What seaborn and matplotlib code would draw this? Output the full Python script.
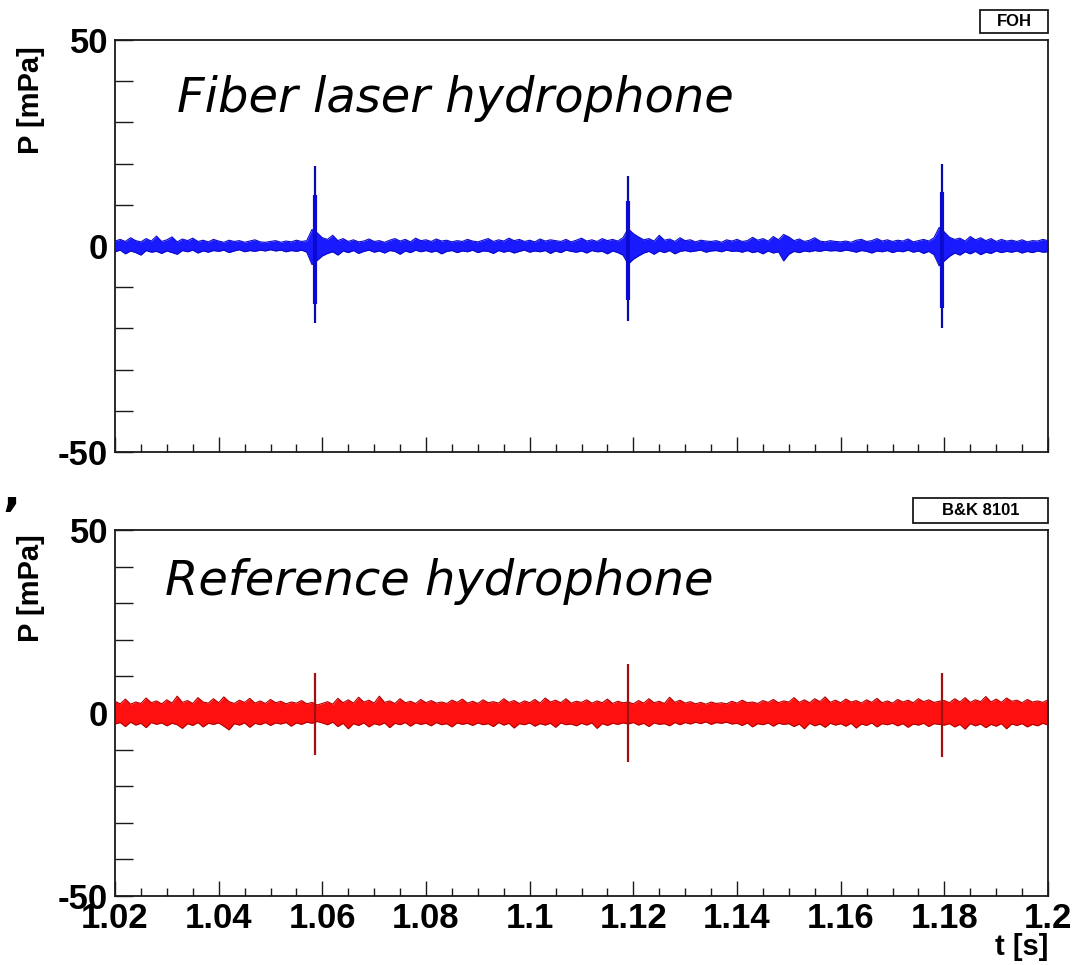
import numpy as np
import matplotlib
matplotlib.use("Agg")
import matplotlib.pyplot as plt
from matplotlib.ticker import MultipleLocator, FixedLocator, FixedFormatter, NullFormatter
from matplotlib.patches import Rectangle
import seaborn as sns

# ---------------- data ----------------
t_start = 1.020          # s, first envelope sample
t_step = 0.001           # s, envelope sample spacing

# fibre laser hydrophone: upper / lower envelope of the trace [mPa]
foh_hi = [1.2, 1.6, 1.1, 2.0, 1.3, 1.0, 1.8, 1.2, 2.4, 1.1,
          1.5, 2.2, 1.0, 1.7, 1.3, 1.9, 1.1, 1.4, 1.0, 1.6,
          1.2, 0.9, 1.4, 1.1, 1.3, 0.9, 1.2, 1.5, 1.0, 0.9,
          1.1, 1.3, 0.9, 1.2, 1.0, 1.4, 1.1, 1.3,
          4.0, 3.2, 2.0, 1.6,
          2.6, 1.3, 1.8, 1.1, 1.5, 1.0, 1.2, 1.7,
          1.1, 1.3, 0.9, 1.4, 1.8, 1.2, 1.6, 1.0, 1.9, 1.3,
          1.5, 1.1, 1.7, 1.2, 1.4, 1.0, 1.3, 1.1, 1.6, 1.2,
          1.0, 1.4, 1.8, 1.1, 1.5, 1.2, 1.9, 1.3, 1.6, 1.1,
          1.4, 1.0, 1.7, 1.2, 1.5, 1.3, 1.1, 1.6, 1.0, 1.4,
          1.9, 1.2, 1.5, 1.1, 1.8, 1.3, 1.6, 1.2, 2.0,
          4.2, 3.0, 2.2, 1.5,
          1.8, 1.2, 2.6, 1.4, 1.7, 1.1, 2.0,
          1.3, 1.5, 1.0, 1.4, 1.2, 1.1, 1.3, 0.9, 1.5, 1.2,
          1.6, 1.1, 1.3, 2.1, 1.4, 1.8, 1.2, 2.3, 1.5, 2.8,
          2.2, 1.3, 1.7, 1.1, 1.4, 2.0, 1.2, 1.0, 1.3, 1.1,
          1.0, 1.2, 0.9, 1.4, 1.6, 1.1, 1.3, 1.8, 1.2, 1.5,
          1.1, 1.4, 1.2, 1.7, 1.0, 1.3, 1.6, 1.2, 2.0,
          4.5, 3.4, 2.1, 1.6,
          1.9, 1.2, 2.3, 1.5, 2.0, 1.3, 1.8, 1.1, 1.6, 1.2,
          1.4, 1.1, 1.5, 1.0, 1.3, 1.2, 1.6, 1.3]
foh_lo = [-1.4, -1.0, -1.9, -1.2, -1.6, -2.2, -1.1, -1.5, -1.3, -1.8,
          -1.2, -1.6, -2.0, -1.1, -1.4, -1.0, -1.7, -1.2, -1.5, -1.1,
          -1.3, -1.0, -1.6, -1.2, -0.9, -1.4, -1.1, -1.3, -1.0, -1.2,
          -0.9, -1.2, -1.0, -1.4, -1.1, -1.3, -1.0, -1.5,
          -4.5, -3.5, -2.4, -1.8,
          -1.4, -2.2, -1.2, -1.6, -1.1, -1.8, -1.3, -1.0,
          -1.5, -1.2, -1.7, -1.1, -1.3, -2.0, -1.2, -1.6, -1.0, -1.4,
          -1.1, -1.5, -1.2, -1.9, -1.3, -1.1, -1.6, -1.2, -1.4, -1.0,
          -1.6, -1.2, -1.3, -1.8, -1.1, -1.5, -1.2, -1.7, -1.3, -1.0,
          -1.5, -1.2, -1.4, -1.1, -1.8, -1.2, -1.6, -1.0, -1.3, -1.5,
          -1.2, -1.7, -1.1, -1.4, -1.3, -1.9, -1.2, -1.6, -2.2,
          -4.4, -3.2, -2.4, -1.7,
          -1.3, -2.0, -1.2, -1.6, -1.1, -1.9, -1.3,
          -1.1, -1.4, -1.2, -1.0, -1.5, -1.2, -1.1, -1.4, -1.0, -1.3,
          -1.2, -1.5, -1.1, -1.6, -1.3, -1.9, -1.2, -1.7, -1.4, -3.6,
          -2.0, -1.3, -1.6, -1.2, -1.4, -1.1, -1.3, -1.0, -1.2, -1.1,
          -1.3, -1.0, -1.2, -1.5, -1.1, -1.3, -1.7, -1.2, -1.4, -1.1,
          -1.6, -1.2, -1.4, -1.0, -1.5, -1.2, -1.8, -1.3, -2.1,
          -4.8, -3.6, -2.5, -1.7,
          -2.2, -1.4, -1.9, -1.3, -2.1, -1.5, -1.8, -1.2, -1.6, -1.3,
          -1.5, -1.2, -1.7, -1.3, -1.6, -1.2, -1.5, -1.4]

# reference hydrophone (B&K 8101): upper / lower envelope [mPa]
bk_hi = [3.2, 2.5, 3.8, 2.4, 3.0, 2.6, 4.1, 2.8, 3.3, 2.5,
         3.6, 2.7, 4.6, 2.9, 3.4, 2.6, 4.2, 3.0, 2.7, 3.9,
         2.8, 4.4, 3.1, 2.6, 3.5, 2.9, 4.0, 2.7, 3.3, 2.6,
         3.7, 2.8, 3.2, 2.5, 3.0, 2.7, 3.4, 2.5, 2.9, 2.2,
         2.6, 3.1, 2.4, 4.0, 2.8, 3.6, 2.7, 4.3, 3.0, 3.5,
         2.7, 4.6, 2.9, 3.3, 2.6, 3.9, 2.8, 3.2, 2.6, 3.7,
         2.8, 3.4, 2.7, 3.0, 2.6, 3.5, 2.9, 3.8, 2.7, 3.2,
         2.6, 3.6, 2.8, 3.1, 2.7, 3.9, 2.9, 3.4, 2.6, 3.3,
         2.8, 3.7, 2.7, 4.1, 3.0, 3.5, 2.8, 3.9, 2.7, 3.2,
         2.9, 3.6, 2.7, 3.3, 2.8, 3.8, 2.6, 3.2, 2.8, 3.0,
         2.5, 3.4, 2.7, 3.9, 2.8, 3.2, 2.6, 4.3, 2.9, 3.5,
         2.7, 3.1, 2.5, 2.9, 2.4, 3.0, 2.6, 2.8, 2.5, 3.2,
         2.7, 3.5, 2.8, 3.0, 2.6, 3.4, 2.9, 3.7, 2.8, 3.3,
         3.0, 4.2, 2.9, 3.6, 2.8, 3.9, 3.1, 4.4, 2.9, 3.5,
         2.8, 3.8, 3.0, 3.4, 2.7, 3.6, 2.9, 4.0, 2.8, 3.3,
         2.7, 3.7, 3.0, 3.5, 2.8, 3.9, 3.1, 3.6, 2.9, 3.2,
         3.4, 2.8, 3.9, 3.0, 4.2, 2.9, 3.6, 3.1, 4.5, 3.0,
         3.8, 2.9, 4.1, 3.2, 3.5, 2.8, 3.7, 3.0, 3.3, 2.9, 3.6]
bk_lo = [-3.0, -2.6, -3.7, -2.5, -3.3, -2.8, -4.0, -2.6, -3.1, -2.7,
         -3.5, -2.8, -3.2, -4.2, -2.9, -3.4, -2.6, -3.8, -2.8, -3.1,
         -2.7, -3.6, -4.6, -2.9, -3.3, -2.7, -3.9, -2.8, -3.2, -2.6,
         -3.4, -2.7, -3.0, -2.6, -3.6, -2.7, -3.1, -2.5, -2.8, -2.3,
         -2.7, -3.2, -2.5, -3.7, -2.8, -4.3, -2.9, -3.4, -2.7, -3.8,
         -2.9, -3.3, -2.7, -4.0, -2.8, -3.2, -2.6, -3.6, -2.7, -3.1,
         -2.8, -3.5, -2.6, -3.2, -2.9, -3.8, -2.7, -3.1, -2.8, -3.4,
         -2.7, -3.2, -2.9, -3.7, -2.6, -3.3, -2.8, -4.1, -2.9, -3.2,
         -2.7, -3.6, -2.9, -3.3, -2.8, -3.9, -2.7, -3.2, -3.0, -3.5,
         -2.8, -3.3, -2.7, -4.2, -2.9, -3.4, -2.8, -3.1, -2.7, -3.0,
         -2.6, -3.3, -2.8, -3.7, -2.7, -3.1, -2.9, -3.5, -2.6, -3.2,
         -2.6, -3.0, -2.5, -2.9, -2.4, -3.1, -2.6, -2.8, -2.5, -3.0,
         -2.8, -3.4, -2.7, -3.8, -2.9, -3.2, -2.7, -3.6, -2.8, -3.1,
         -2.9, -3.7, -3.0, -4.3, -2.8, -3.5, -3.0, -3.9, -2.8, -3.3,
         -2.9, -3.6, -2.8, -4.1, -3.0, -3.4, -2.7, -3.8, -2.9, -3.2,
         -2.8, -3.5, -2.9, -3.9, -3.0, -3.3, -2.8, -3.7, -2.9, -3.1,
         -3.3, -2.9, -3.8, -3.1, -4.4, -2.9, -3.5, -3.0, -4.0, -3.1,
         -3.6, -2.9, -4.3, -3.0, -3.4, -2.9, -3.8, -3.1, -3.5, -2.8, -3.3]

# acoustic pulses [s] and their extreme excursions [mPa]
pulse_t = [1.0585, 1.1190, 1.1795]
foh_peak_hi = [19.5, 17.0, 20.0]
foh_peak_lo = [-18.8, -18.3, -20.0]
foh_core_hi = [12.5, 11.0, 13.0]
foh_core_lo = [-14.0, -13.0, -15.0]
bk_peak_hi = [11.0, 13.4, 11.0]
bk_peak_lo = [-11.5, -13.4, -12.0]

x_tick_values = [1.02, 1.04, 1.06, 1.08, 1.10, 1.12, 1.14, 1.16, 1.18, 1.20]
x_tick_labels = ["1.02", "1.04", "1.06", "1.08", "1.1", "1.12", "1.14", "1.16", "1.18", "1.2"]
y_tick_values = [-50, 0, 50]
y_tick_labels = ["-50", "0", "50"]

# ---------------- style ----------------
sns.set_style("ticks")
plt.rcParams["font.family"] = ["Liberation Sans", "DejaVu Sans"]
plt.rcParams["axes.unicode_minus"] = False
plt.rcParams["text.color"] = "black"
plt.rcParams["xtick.labelcolor"] = "black"
plt.rcParams["ytick.labelcolor"] = "black"

W, H, DPI = 1079, 965, 100
fig = plt.figure(figsize=(W / DPI, H / DPI), dpi=DPI)
fig.patch.set_facecolor("white")


def px_rect(x0, y0, x1, y1):
    """Axes rectangle from pixel corners (top-left origin)."""
    return [x0 / W, 1 - y1 / H, (x1 - x0) / W, (y1 - y0) / H]


ax_top = fig.add_axes(px_rect(115, 40, 1048, 452))
ax_bot = fig.add_axes(px_rect(115, 530, 1048, 896))

frame_col = "#1a1a1a"


def style_axes(ax, show_xlabels):
    ax.set_xlim(1.02, 1.20)
    ax.set_ylim(-50, 50)
    for side in ax.spines.values():
        side.set_visible(True)
        side.set_color(frame_col)
        side.set_linewidth(1.3)
    ax.xaxis.set_major_locator(FixedLocator(x_tick_values))
    ax.xaxis.set_minor_locator(MultipleLocator(0.005))
    ax.yaxis.set_major_locator(FixedLocator(y_tick_values))
    ax.yaxis.set_major_formatter(FixedFormatter(y_tick_labels))
    ax.yaxis.set_minor_locator(MultipleLocator(10))
    if show_xlabels:
        ax.xaxis.set_major_formatter(FixedFormatter(x_tick_labels))
    else:
        ax.xaxis.set_major_formatter(NullFormatter())
    ax.tick_params(axis="y", which="both", direction="in", length=13, width=1.0,
                   color=frame_col, left=True, right=False, pad=5,
                   labelsize=25, labelcolor="black")
    ax.tick_params(axis="x", which="major", direction="in", length=11, width=1.0,
                   color=frame_col, bottom=True, top=False, pad=4, labelsize=25,
                   labelcolor="black")
    ax.tick_params(axis="x", which="minor", direction="in", length=5.5, width=1.0,
                   color=frame_col, bottom=True, top=False)
    for lab in ax.get_xticklabels() + ax.get_yticklabels():
        lab.set_fontweight("bold")
    ax.set_xlabel("")
    ax.set_ylabel("")


def draw_trace(ax, hi, lo, fill_col, edge_col):
    t = t_start + t_step * np.arange(len(hi))
    ax.fill_between(t, lo, hi, color=fill_col, lw=0, zorder=2)
    sns.lineplot(x=t, y=hi, ax=ax, color=edge_col, lw=0.8, zorder=3)
    sns.lineplot(x=t, y=lo, ax=ax, color=edge_col, lw=0.8, zorder=3)


# top panel: fibre laser hydrophone
draw_trace(ax_top, foh_hi, foh_lo, "#1a1aff", "#0a0ac8")
ax_top.vlines(pulse_t, foh_peak_lo, foh_peak_hi, color="#0a0aa8", lw=1.6, zorder=4)
ax_top.vlines(pulse_t, foh_core_lo, foh_core_hi, color="#0a0ad0", lw=3.0, zorder=4)
style_axes(ax_top, show_xlabels=False)

# bottom panel: reference hydrophone
draw_trace(ax_bot, bk_hi, bk_lo, "#ff1010", "#b00000")
ax_bot.vlines(pulse_t, bk_peak_lo, bk_peak_hi, color="#a01010", lw=1.6, zorder=4)
style_axes(ax_bot, show_xlabels=True)

# axis titles
ylab_kw = dict(rotation=90, ha="center", va="center", fontsize=21, fontweight="bold")
fig.text(31 / W, 1 - 100 / H, "P [mPa]", **ylab_kw)
fig.text(31 / W, 1 - 588 / H, "P [mPa]", **ylab_kw)
fig.text(1048 / W, 1 - 947 / H, "t [s]", ha="right", va="center",
         fontsize=21, fontweight="bold")

# in-panel captions
cap_kw = dict(fontsize=34.6, style="italic", family="DejaVu Sans", va="baseline",
              ha="left", color="black")
fig.text(177 / W, 1 - 112 / H, "Fiber laser hydrophone", **cap_kw)
fig.text(165 / W, 1 - 595 / H, "Reference hydrophone", **cap_kw)

# stray mark at the left margin
fig.text(2 / W, 1 - 492 / H, ",", fontsize=34, fontweight="bold",
         family="DejaVu Sans", ha="left", va="center")


# histogram-name boxes
def name_box(x0, y0, x1, y1, label):
    fig.add_artist(Rectangle((x0 / W, 1 - y1 / H), (x1 - x0) / W, (y1 - y0) / H,
                             transform=fig.transFigure, facecolor="white",
                             edgecolor=frame_col, lw=1.3))
    fig.text((x0 + x1) / 2 / W, 1 - (y0 + y1) / 2 / H, label, ha="center",
             va="center", fontsize=12, fontweight="bold")


name_box(980, 10, 1048, 33, "FOH")
name_box(913, 498, 1048, 523, "B&K 8101")

fig.savefig("out.png", dpi=DPI, facecolor="white")
